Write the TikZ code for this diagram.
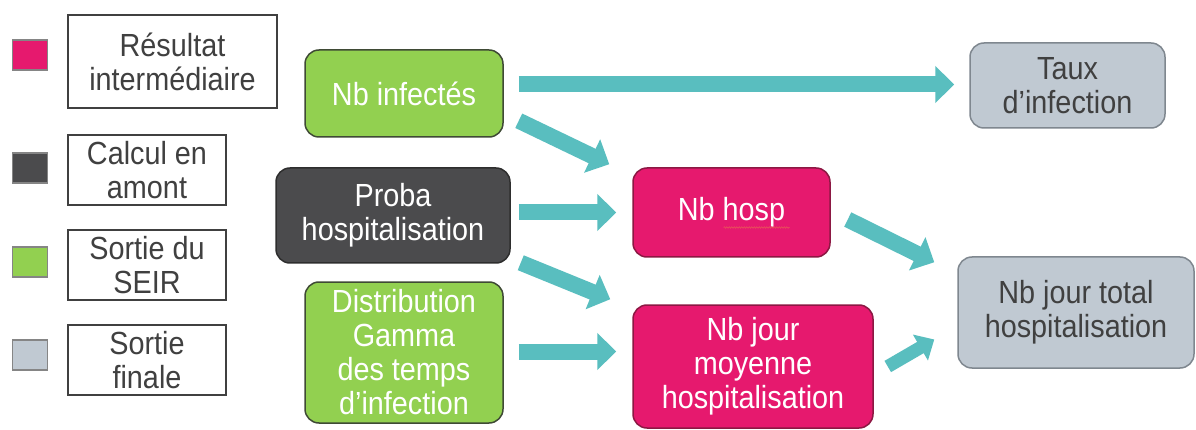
\documentclass[tikz,border=0pt]{standalone}
\usepackage{fontspec}
\setmainfont{Liberation Sans}[FakeStretch=0.9]
\usetikzlibrary{arrows.meta,calc,decorations.pathmorphing}
\definecolor{cflow}{HTML}{59BEBF}
\definecolor{cgreen}{HTML}{92D050}
\definecolor{cgreenb}{HTML}{3F4A35}
\definecolor{cpink}{HTML}{E6196E}
\definecolor{cpinkb}{HTML}{8C1843}
\definecolor{cdark}{HTML}{4B4B4D}
\definecolor{cdarkb}{HTML}{2E2E2E}
\definecolor{clight}{HTML}{C0C9D2}
\definecolor{clightb}{HTML}{7F878F}
\definecolor{ctext}{HTML}{404040}
\definecolor{csqb}{HTML}{858585}
\definecolor{cwave}{HTML}{E8505A}
\begin{document}
\begin{tikzpicture}[x=1pt,y=-1pt,
  box/.style={rounded corners=14pt, line width=1.5pt, inner sep=0pt, align=center,
    font=\fontsize{32}{34}\selectfont},
  greenbox/.style={box, fill=cgreen, draw=cgreenb, text=white},
  pinkbox/.style={box, fill=cpink, draw=cpinkb, text=white},
  darkbox/.style={box, fill=cdark, draw=cdarkb, text=white},
  lightbox/.style={box, fill=clight, draw=clightb, text=ctext},
  legbox/.style={draw=ctext, line width=1.8pt, fill=white, inner sep=0pt, align=center,
    text=ctext, font=\fontsize{32}{34}\selectfont},
  legsq/.style={draw=csqb, line width=1.5pt, minimum width=35pt, minimum height=30pt, inner sep=0pt},
  flow/.style={draw=cflow, line width=16pt, -{Triangle[width=36pt,length=19pt]}},
  flowsmall/.style={draw=cflow, line width=13pt, -{Triangle[width=29pt,length=16pt]}},
]
\useasboundingbox[fill=white] (0,0) rectangle (1196,430);

% legend
\node[legsq, fill=cpink] (sq1) at (30,55) {};
\node[legsq, fill=cdark] (sq2) at (30,168) {};
\node[legsq, fill=cgreen] (sq3) at (30,262) {};
\node[legsq, fill=clight] (sq4) at (30,355) {};
\node[legbox, minimum width=209pt, minimum height=93pt] (l1) at (172.5,61.5) {Résultat\\intermédiaire};
\node[legbox, minimum width=158pt, minimum height=70pt] (l2) at (147,170) {Calcul en\\amont};
\node[legbox, minimum width=158pt, minimum height=70pt] (l3) at (147,265) {Sortie du\\SEIR};
\node[legbox, minimum width=158pt, minimum height=70pt] (l4) at (147,360) {Sortie\\finale};

% main nodes
\node[greenbox, minimum width=198pt, minimum height=87pt] (inf) at (404,93.5) {Nb infectés};
\node[lightbox, minimum width=195pt, minimum height=85pt] (taux) at (1067.5,85.5) {Taux\\d’infection};
\node[darkbox, minimum width=234pt, minimum height=95pt] (proba) at (393,215.5) {Proba\\hospitalisation};
\node[pinkbox, minimum width=197pt, minimum height=89pt] (hosp) at (731.5,212.5) {Nb hosp};
\node[greenbox, minimum width=198pt, minimum height=141pt] (dist) at (404,352.5) {Distribution\\Gamma\\des temps\\d’infection};
\node[pinkbox, minimum width=240pt, minimum height=123pt] (jour) at (753,366.5) {Nb jour\\moyenne\\hospitalisation};
\node[lightbox, minimum width=236pt, minimum height=111pt] (total) at (1076,312.5) {Nb jour total\\hospitalisation};

% spell-check underline
\draw[cwave, line width=0.6pt, decorate, decoration={snake, amplitude=0.8pt, segment length=2.5pt}]
  ($(hosp.center)+(-8,15)$) -- ($(hosp.center)+(58,15)$);

% connectors
\draw[flow] ($(inf.east |- taux.west)+(15,-1)$) -- ($(taux.west)+(-15,-1)$);
\draw[flow] ($(inf.south east)+(15,-17)$) -- ($(hosp.north west)+(-23,-3)$);
\draw[flow] ($(proba.east |- hosp.west)+(8,0)$) -- ($(hosp.west)+(-16,0)$);
\draw[flow] ($(proba.south east)+(10,-1)$) -- ($(jour.north west)+(-22,-5)$);
\draw[flow] ($(dist.east)+(15,-1)$) -- ($(jour.west |- dist.east)+(-16,-1)$);
\draw[flow] ($(hosp.east)+(17,7)$) -- ($(total.north west)+(-23,6)$);
\draw[flowsmall] ($(jour.east)+(14,0)$) -- ($(total.west)+(-23,27)$);
\end{tikzpicture}
\end{document}
